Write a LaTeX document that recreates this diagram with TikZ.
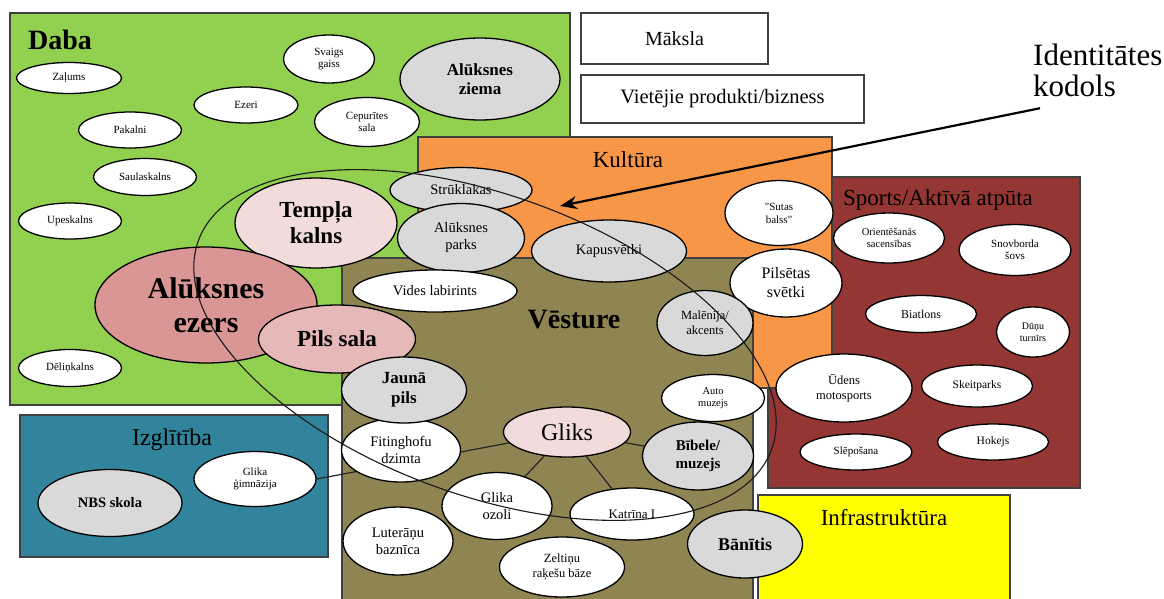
\documentclass[tikz,border=0pt]{standalone}
\usepackage{fontspec}
\setmainfont{Liberation Serif}
\newfontfamily\rawserif{Liberation Serif}
\usetikzlibrary{shapes.geometric,arrows.meta}

\definecolor{dabagreen}{HTML}{92D050}
\definecolor{kultorange}{HTML}{F79646}
\definecolor{vestolive}{HTML}{8F8552}
\definecolor{sportred}{HTML}{943634}
\definecolor{izglteal}{HTML}{31849B}
\definecolor{infrayellow}{HTML}{FFFF00}
\definecolor{bubgrey}{HTML}{D9D9D9}
\definecolor{pinklight}{HTML}{F2DCDB}
\definecolor{pinkmid}{HTML}{E6B9B8}
\definecolor{pinkdark}{HTML}{D99694}

\pgfdeclarelayer{background}
\pgfdeclarelayer{links}
\pgfsetlayers{background,links,main}

\newcommand\pxfont[2]{\fontsize{#1}{#2}\selectfont}

\tikzset{
    zone/.style={draw=black!75, line width=1.5pt},
    zonetitle/.style={anchor=base, inner sep=0pt, font=\pxfont{23}{25}},
    plainbox/.style={rectangle, draw=black!75, line width=1.5pt, fill=white, inner sep=0pt},
    bub/.style={ellipse, draw=black, line width=1.3pt, fill=white, inner sep=0pt, align=center},
    link/.style={draw=black!85, line width=1.2pt},
    pointer/.style={draw=black, line width=2.2pt, -{Stealth[length=17pt, width=13pt]}}
}

\begin{document}
\begin{tikzpicture}[x=1pt, y=-1pt]
    \useasboundingbox (0,0) rectangle (1164,598);

    % Zones
    \begin{pgfonlayer}{background}
        \fill[white] (0,0) rectangle (1164,598);
        \filldraw[zone, fill=dabagreen] (10,13) rectangle (570,405);
        \filldraw[zone, fill=sportred] (768,177) rectangle (1080,488);
        \filldraw[zone, fill=kultorange] (418,137) rectangle (832,388);
        \filldraw[zone, fill=vestolive] (342,258) rectangle (753,602);
        \filldraw[zone, fill=izglteal] (20,415) rectangle (328,557);
        \filldraw[zone, fill=infrayellow] (758,495) rectangle (1010,602);
    \end{pgfonlayer}

    % Zone titles
    \node[zonetitle, anchor=base west, font=\bfseries\pxfont{28}{30}] (daba) at (28,49) {Daba};
    \node[zonetitle] (kultura) at (628,167) {Kultūra};
    \node[zonetitle] (sports) at (938,205) {Sports/Aktīvā atpūta};
    \node[zonetitle, font=\bfseries\pxfont{28}{30}] (vesture) at (574,328) {Vēsture};
    \node[zonetitle, font=\pxfont{24}{26}] (izglitiba) at (172,445) {Izglītība};
    \node[zonetitle] (infra) at (884,525) {Infrastruktūra};

    % Separate boxes
    \node[plainbox, minimum width=187, minimum height=51, font=\pxfont{20}{22}] (maksla) at (674.5,38.5) {Māksla};
    \node[plainbox, minimum width=283, minimum height=48, font=\pxfont{20.5}{22}] (vietejie) at (722.5,99) {Vietējie produkti/bizness};

    % Daba
    \node[bub, minimum width=105, minimum height=31, font=\pxfont{11}{12}] (zalums) at (69,78) {Zaļums};
    \node[bub, minimum width=91, minimum height=48, font=\pxfont{11}{12}] (svaigs) at (329,59) {Svaigs\\gaiss};
    \node[bub, fill=bubgrey, minimum width=160, minimum height=82, font=\bfseries\pxfont{17}{19}] (ziema) at (480,79) {Alūksnes\\ziema};
    \node[bub, minimum width=104, minimum height=36, font=\pxfont{11}{12}] (ezeri) at (246,105) {Ezeri};
    \node[bub, minimum width=105, minimum height=49, font=\pxfont{11}{12}] (cepurites) at (367,122) {Cepurītes\\sala};
    \node[bub, minimum width=103, minimum height=36, font=\pxfont{11}{12}] (pakalni) at (130,130) {Pakalni};
    \node[bub, minimum width=103, minimum height=37, font=\pxfont{11}{12}] (saules) at (145,177) {Saulaskalns};
    \node[bub, minimum width=103, minimum height=36, font=\pxfont{11}{12}] (upes) at (70,221) {Upeskalns};
    \node[bub, minimum width=103, minimum height=37, font=\pxfont{11}{12}] (delin) at (70,368) {Dēliņkalns};

    % Kultura
    \node[bub, fill=bubgrey, minimum width=142, minimum height=45, font=\pxfont{14.5}{16}] (struklakas) at (461,190) {Strūklakas};
    \node[bub, fill=pinklight, minimum width=162, minimum height=90, font=\bfseries\pxfont{23}{26}] (templis) at (316,223) {Tempļa\\kalns};
    \node[bub, fill=bubgrey, minimum width=127, minimum height=69, font=\pxfont{14.5}{17}] (parks) at (461,238) {Alūksnes\\parks};
    \node[bub, fill=bubgrey, minimum width=155, minimum height=62, font=\pxfont{14.5}{16}] (kapusvetki) at (609,251) {Kapusvētki};
    \node[bub, minimum width=108, minimum height=65, font=\rawserif\pxfont{11}{13}] (sutas) at (779,213) {"Sutas\\balss"};
    \node[bub, minimum width=112, minimum height=68, font=\pxfont{16}{19}] (svetki) at (786,283) {Pilsētas\\svētki};
    \node[bub, minimum width=164, minimum height=42, font=\pxfont{14.5}{16}] (vides) at (435,291) {Vides labirints};
    \node[bub, fill=bubgrey, minimum width=96, minimum height=65, font=\pxfont{12.5}{15}] (malenija) at (705,323) {Malēnija/\\akcents};

    % Ezers
    \node[bub, fill=pinkdark, minimum width=222, minimum height=116, font=\bfseries\pxfont{30}{34}] (ezers) at (206,305) {Alūksnes\\ezers};
    \node[bub, fill=pinkmid, minimum width=157, minimum height=68, font=\bfseries\pxfont{23}{25}] (pilssala) at (337,339) {Pils sala};

    % Vesture
    \node[bub, minimum width=119, minimum height=64, font=\pxfont{14.5}{17}] (fitinghofu) at (401,450) {Fitinghofu\\dzimta};
    \node[bub, fill=bubgrey, minimum width=125, minimum height=66, font=\bfseries\pxfont{17}{20}] (jaunapils) at (404,390) {Jaunā\\pils};
    \node[bub, fill=pinklight, minimum width=127, minimum height=50, font=\pxfont{24}{26}] (gliks) at (567,432) {Gliks};
    \node[bub, minimum width=103, minimum height=47, font=\pxfont{10.5}{12}] (auto) at (713,398) {Auto\\muzejs};
    \node[bub, fill=bubgrey, minimum width=111, minimum height=68, font=\bfseries\pxfont{15}{18}] (bibele) at (698,456) {Bībele/\\muzejs};
    \node[bub, minimum width=110, minimum height=67, font=\pxfont{14.5}{17}] (ozoli) at (497,506) {Glika\\ozoli};
    \node[bub, minimum width=124, minimum height=52, font=\pxfont{13}{15}] (katrina) at (632,514) {Katrīna I};
    \node[bub, minimum width=110, minimum height=68, font=\pxfont{14.5}{17}] (luteranu) at (398,541) {Luterāņu\\baznīca};
    \node[bub, minimum width=125, minimum height=60, font=\pxfont{12.5}{15}] (zeltinu) at (562,567) {Zeltiņu\\raķešu bāze};
    \node[bub, fill=bubgrey, minimum width=115, minimum height=68, font=\bfseries\pxfont{18}{20}] (banitis) at (745,544) {Bānītis};

    % Izglitiba
    \node[bub, fill=bubgrey, minimum width=144, minimum height=67, font=\bfseries\pxfont{14.5}{16}] (nbs) at (110,503) {NBS skola};
    \node[bub, minimum width=122, minimum height=55, font=\pxfont{11}{12}] (gimnazija) at (255,479) {Glika\\ģimnāzija};

    % Sports
    \node[bub, minimum width=111, minimum height=50, font=\pxfont{10.5}{12}] (orient) at (889,238) {Orientēšanās\\sacensības};
    \node[bub, minimum width=112, minimum height=51, font=\pxfont{11}{12}] (snovbords) at (1015,250) {Snovborda\\šovs};
    \node[bub, minimum width=111, minimum height=37, font=\pxfont{12}{13}] (biatlons) at (921,314) {Biatlons};
    \node[bub, minimum width=73, minimum height=50, font=\pxfont{10}{12}] (dunu) at (1033,332) {Dūņu\\turnīrs};
    \node[bub, minimum width=136, minimum height=68, font=\pxfont{12.5}{15}] (udens) at (844,388) {Ūdens\\motosports};
    \node[bub, minimum width=111, minimum height=42, font=\pxfont{11.5}{13}] (skeits) at (977,386) {Skeitparks};
    \node[bub, minimum width=112, minimum height=36, font=\pxfont{11}{12}] (slepo) at (856,452) {Slēpošana};
    \node[bub, minimum width=111, minimum height=36, font=\pxfont{11.5}{13}] (hokejs) at (993,442) {Hokejs};

    % Links to Gliks
    \begin{pgfonlayer}{links}
        \draw[link] (gliks) -- (gimnazija.east);
        \draw[link] (gliks) -- (ozoli);
        \draw[link] (gliks) -- (katrina);
        \draw[link] (gliks) -- (bibele);
    \end{pgfonlayer}

    % Identity core
    \node[ellipse, draw=black!90, line width=1.1pt, minimum width=610, minimum height=300, inner sep=0pt, rotate=-20] (kodols) at (485,345) {};

    % Core label and arrow
    \node[anchor=north west, align=left, inner sep=0pt, font=\pxfont{31}{31}] (ident) at (1033,44) {Identitātes\\kodols};
    \coordinate (arrowtip) at (560,206);
    \draw[pointer] ([shift={(7,11)}]ident.south west) -- (arrowtip);
\end{tikzpicture}
\end{document}
